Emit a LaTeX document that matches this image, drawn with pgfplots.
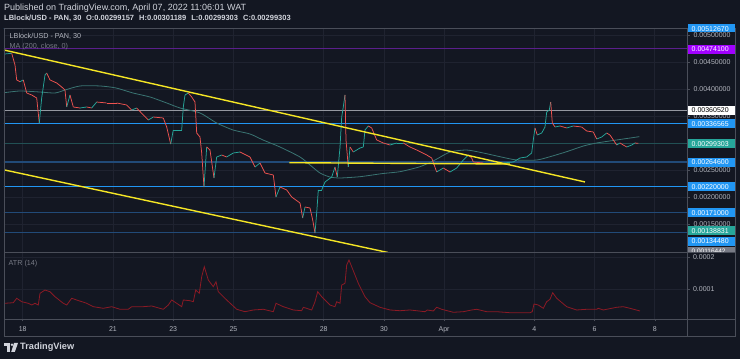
\documentclass[border=0pt]{standalone}
\usepackage{fontspec}
\setmainfont{Liberation Sans}
\usepackage{pgfplots}
\usepackage{pgfplotstable}
\pgfplotsset{compat=1.18}
\definecolor{bg}{HTML}{131722}
\definecolor{gridc}{HTML}{1F2330}
\definecolor{framec}{HTML}{4A4E59}
\definecolor{textc}{HTML}{D1D4DC}
\definecolor{lblc}{HTML}{B2B5BE}
\definecolor{mutedc}{HTML}{787B86}
\definecolor{upc}{HTML}{26A69A}
\definecolor{dnc}{HTML}{EF5350}
\definecolor{mac}{HTML}{3A7472}
\definecolor{yel}{HTML}{F5E625}
\definecolor{blu}{HTML}{2196F3}
\definecolor{dblu}{HTML}{214A78}
\definecolor{purl}{HTML}{5A1F8C}
\definecolor{purb}{HTML}{A100FF}
\definecolor{gryl}{HTML}{9598A1}
\definecolor{grybox}{HTML}{787B86}
\definecolor{atrc}{HTML}{8B1A25}

\pgfplotstableread{
d p m
-0.598 0.004648 1
-0.365 0.004661 0
-0.256 0.004444 0
-0.199 0.004167 0
-0.090 0.004135 1
0.020 0.004167 0
0.133 0.003926 0
0.299 0.003889 0
0.465 0.003833 0
0.551 0.003370 1
0.631 0.003833 1
0.741 0.004259 1
0.797 0.004296 0
0.907 0.004167 0
1.130 0.004111 0
1.296 0.004037 0
1.405 0.003981 0
1.462 0.003667 1
1.571 0.003889 0
1.681 0.003667 0
1.904 0.003648 1
2.126 0.003667 0
2.292 0.003648 1
2.458 0.003759 0
2.791 0.003741 0
3.123 0.003741 0
3.455 0.003704 0
3.621 0.003611 1
3.787 0.003648 0
4.007 0.003519 0
4.173 0.003426 1
4.339 0.003481 0
4.671 0.003463 0
4.784 0.003296 0
4.917 0.002981 1
5.003 0.003241 1
5.282 0.003241 1
5.336 0.003667 1
5.392 0.003889 1
5.502 0.003926 0
5.615 0.003852 0
5.724 0.003759 0
5.781 0.003185 0
5.890 0.003111 0
5.947 0.002815 0
6.023 0.002185 1
6.113 0.002926 0
6.223 0.002870 0
6.355 0.002352 1
6.445 0.002741 1
6.611 0.002778 0
6.777 0.002741 1
6.997 0.002815 1
7.219 0.002833 0
7.551 0.002741 0
7.718 0.002556 1
7.884 0.002630 0
8.050 0.002444 0
8.326 0.002407 0
8.415 0.002000 1
8.548 0.002185 0
8.771 0.002130 0
8.937 0.002000 0
9.213 0.001889 0
9.302 0.001611 1
9.379 0.001815 0
9.545 0.001796 0
9.635 0.001574 0
9.711 0.001333 1
9.767 0.001704 1
9.821 0.002130 1
9.934 0.002130 1
10.043 0.002278 1
10.266 0.002370 1
10.375 0.002556 0
10.452 0.002370 1
10.542 0.002926 1
10.598 0.003481 1
10.651 0.003667 1
10.708 0.003889 0
10.741 0.003056 0
10.817 0.002556 1
10.874 0.002926 0
10.983 0.002833 1
11.206 0.002907 1
11.316 0.002926 1
11.372 0.003241 1
11.482 0.003315 0
11.595 0.003278 0
11.761 0.003056 0
11.980 0.003000 0
12.203 0.002963 1
12.425 0.003000 1
12.645 0.003000 0
12.867 0.002926 0
13.090 0.002870 0
13.422 0.002778 0
13.588 0.002722 0
13.754 0.002463 1
13.973 0.002537 0
14.196 0.002463 1
14.419 0.002537 1
14.638 0.002685 1
14.804 0.002778 0
14.917 0.002722 0
14.970 0.002648 0
15.302 0.002630 0
15.635 0.002630 1
15.967 0.002630 1
16.299 0.002648 1
16.522 0.002722 1
16.744 0.002741 1
16.910 0.002815 1
16.963 0.003056 1
17.020 0.003278 0
17.096 0.003148 1
17.243 0.003185 1
17.352 0.003296 1
17.409 0.003574 1
17.495 0.003611 1
17.542 0.003759 0
17.595 0.003370 0
17.685 0.003296 1
17.851 0.003315 0
18.073 0.003278 1
18.292 0.003315 0
18.571 0.003296 0
18.738 0.003222 0
18.957 0.003204 0
19.070 0.003074 1
19.236 0.003111 1
19.402 0.003185 0
19.512 0.003148 0
19.621 0.003056 0
19.734 0.002963 1
19.844 0.003000 0
19.953 0.002963 0
20.066 0.002926 1
20.233 0.002963 1
20.342 0.003000 0
20.452 0.002993 0
}\pricetab

\pgfplotstableread{
d p
-0.621 0.003931
-0.090 0.003963
0.575 0.003944
1.073 0.003926
1.405 0.003981
1.904 0.004056
2.568 0.004056
3.100 0.004019
3.664 0.003926
4.229 0.003852
4.784 0.003741
5.226 0.003648
5.890 0.003556
6.445 0.003370
6.987 0.003241
7.551 0.003167
7.983 0.003056
8.548 0.002926
9.213 0.002741
9.545 0.002593
9.877 0.002444
10.209 0.002370
10.542 0.002352
11.206 0.002376
11.970 0.002435
12.535 0.002469
13.199 0.002561
13.698 0.002685
14.196 0.002833
14.751 0.002870
15.302 0.002815
15.857 0.002746
16.412 0.002685
17.076 0.002685
17.518 0.002746
18.073 0.002839
18.625 0.002944
19.070 0.003000
19.734 0.003056
20.485 0.003117
}\matab

\pgfplotstableread{
d v
-0.588 0.0000549
-0.312 0.0000568
-0.199 0.0000707
-0.033 0.0000599
0.186 0.0000549
0.299 0.0000495
0.409 0.0000549
0.518 0.0000495
0.575 0.0000864
0.741 0.0000968
0.907 0.0000915
1.073 0.0000757
1.349 0.0000549
1.462 0.0000495
1.628 0.0000707
1.794 0.0000653
2.126 0.0000549
2.346 0.0000442
2.678 0.0000391
2.957 0.0000442
3.233 0.0000360
3.508 0.0000360
3.621 0.0000442
4.007 0.0000442
4.286 0.0000464
4.671 0.0000360
4.837 0.0000495
4.950 0.0000653
5.116 0.0000549
5.282 0.0000442
5.336 0.0000653
5.558 0.0000631
5.668 0.0000599
5.748 0.0000968
5.867 0.0000864
5.947 0.0001388
6.033 0.0001703
6.166 0.0001284
6.332 0.0001073
6.422 0.0001230
6.498 0.0000915
6.777 0.0000653
7.110 0.0000360
7.385 0.0000284
7.661 0.0000338
7.993 0.0000360
8.326 0.0000284
8.415 0.0000549
8.658 0.0000442
8.990 0.0000338
9.269 0.0000315
9.322 0.0000423
9.601 0.0000338
9.711 0.0000599
9.801 0.0000915
9.934 0.0000757
10.209 0.0000495
10.375 0.0000442
10.432 0.0000599
10.542 0.0000549
10.598 0.0001126
10.708 0.0001180
10.764 0.0001757
10.841 0.0001915
10.930 0.0001703
11.150 0.0001180
11.372 0.0000757
11.538 0.0000568
11.870 0.0000423
12.203 0.0000338
12.535 0.0000315
12.867 0.0000338
13.365 0.0000284
13.442 0.0000338
13.641 0.0000306
13.754 0.0000423
13.920 0.0000360
14.306 0.0000265
14.638 0.0000284
14.917 0.0000338
15.083 0.0000360
15.415 0.0000284
15.748 0.0000284
16.189 0.0000252
16.854 0.0000252
16.930 0.0000284
16.987 0.0000527
17.130 0.0000495
17.296 0.0000391
17.409 0.0000599
17.518 0.0000675
17.608 0.0000883
17.741 0.0000707
18.073 0.0000442
18.405 0.0000338
18.738 0.0000360
19.070 0.0000360
19.123 0.0000391
19.289 0.0000338
19.734 0.0000423
19.953 0.0000442
20.176 0.0000391
20.508 0.0000306
}\atrtab

\newcommand\pf{\fontsize{7}{8}\selectfont}

\begin{document}
\begin{tikzpicture}[x=1pt,y=1pt]
\useasboundingbox (0,0) rectangle (740,359);
\fill[bg] (0,0) rectangle (740,359);

% ---------------- price panel
\begin{axis}[at={(4pt,107pt)}, anchor=south west, width=683pt, height=224pt, scale only axis,
  enlargelimits=false,
  xmin=-0.6213, xmax=22.0698, ymin=0.00098148, ymax=0.0051296,
  axis line style={draw=none},
  xtick={0,3,5,7,10,12,14,17,19,21}, xticklabels={}, 
  ytick={0.0015,0.002,0.0025,0.003,0.0035,0.004,0.0045,0.005},
  yticklabels={0.00150000,0.00200000,0.00250000,{},0.00350000,0.00400000,0.00450000,0.00500000},
  scaled y ticks=false, scaled x ticks=false,
  ytick pos=right, yticklabel pos=right,
  tick align=outside, major tick length=3pt,
  x tick style={draw=none}, y tick style={framec, line width=0.6pt},
  y tick label style={font=\pf, text=lblc, anchor=west},
  /pgf/number format/assume math mode=true,
  grid=major, major grid style={gridc, line width=0.7pt},
]
% horizontal levels
\addplot[blu, line width=1.1pt] coordinates {(-1,0.0051267) (23,0.0051267)};
\addplot[purl, line width=1pt] coordinates {(-1,0.004741) (23,0.004741)};
\addplot[gryl, line width=1pt] coordinates {(-1,0.0036052) (23,0.0036052)};
\addplot[blu, line width=1.2pt] coordinates {(-1,0.00336565) (23,0.00336565)};
\addplot[upc, opacity=0.35, line width=0.6pt] coordinates {(-1,0.00299303) (23,0.00299303)};
\addplot[dblu, line width=1.3pt] coordinates {(-1,0.002646) (23,0.002646)};
\addplot[blu, line width=1.2pt] coordinates {(-1,0.0022) (23,0.0022)};
\addplot[dblu, line width=1.3pt] coordinates {(-1,0.00171) (23,0.00171)};
\addplot[dblu, line width=1.3pt] coordinates {(-1,0.0013448) (23,0.0013448)};
% moving average
\addplot[mac, line width=0.8pt, smooth, tension=0.4] table[x=d, y=p] {\matab};
% price
\addplot[mesh, shader=flat corner, line width=0.75pt, colormap={updn}{color=(dnc) color=(upc)},
  point meta min=0, point meta max=1, point meta=explicit] table[x=d, y=p, meta=m] {\pricetab};
% trend lines
\addplot[yel, line width=1.4pt] coordinates {(-0.621,0.004722) (18.681,0.002278)};
\addplot[yel, line width=1.4pt] coordinates {(-0.598,0.002500) (12.136,0.000972)};
\addplot[yel, line width=1.4pt] coordinates {(8.857,0.002635) (16.189,0.002611)};
\end{axis}

% ---------------- ATR panel
\begin{axis}[at={(4pt,40pt)}, anchor=south west, width=683pt, height=66pt, scale only axis,
  enlargelimits=false,
  xmin=-0.6213, xmax=22.0698, ymin=0.00000536, ymax=0.00021356,
  axis line style={draw=none},
  xtick={0,3,5,7,10,12,14,17,19,21},
  xticklabels={18,21,23,25,28,30,Apr,4,6,8},
  ytick={0.0001,0.0002}, yticklabels={0.0001,0.0002},
  scaled y ticks=false, scaled x ticks=false,
  ytick pos=right, yticklabel pos=right, xtick pos=bottom,
  tick align=outside, major tick length=2.5pt,
  tick style={framec, line width=0.6pt},
  y tick label style={font=\pf, text=lblc, anchor=west},
  x tick label style={font=\pf, text=lblc, yshift=-1.5pt},
  /pgf/number format/assume math mode=true,
  grid=major, major grid style={gridc, line width=0.7pt},
]
\addplot[atrc, line width=0.8pt] table[x=d, y=v] {\atrtab};
\end{axis}

% ---------------- overlays in image pixel coordinates
\begin{scope}[x=1pt, y=-1pt, yshift=359pt]
% frame
\draw[framec, line width=0.9pt] (4,28) rectangle (735,336);
\draw[framec, line width=0.9pt] (687,28) -- (687,336);
\draw[framec, line width=1.4pt] (4,252.7) -- (735,252.7);
\draw[framec, line width=0.9pt] (4,319.3) -- (735,319.3);
% price label boxes
\fill[blu] (688,24.5) rectangle (735,32.5);
\node[anchor=west, inner sep=0, text=white, font=\pf] at (691.5,28.7) {0.00512670};
\fill[purb] (688,45) rectangle (735,54);
\node[anchor=west, inner sep=0, text=white, font=\pf] at (691.5,49.5) {0.00474100};
\fill[white] (688,106) rectangle (735,115);
\node[anchor=west, inner sep=0, text=black, font=\pf] at (691.5,110.5) {0.00360520};
\fill[blu] (688,119.5) rectangle (735,128.5);
\node[anchor=west, inner sep=0, text=white, font=\pf] at (691.5,124) {0.00336565};
\fill[upc] (688,139.5) rectangle (735,148.5);
\node[anchor=west, inner sep=0, text=white, font=\pf] at (691.5,144) {0.00299303};
\fill[blu] (688,158) rectangle (735,167);
\node[anchor=west, inner sep=0, text=white, font=\pf] at (691.5,162.5) {0.00264600};
\fill[blu] (688,182.5) rectangle (735,191.5);
\node[anchor=west, inner sep=0, text=white, font=\pf] at (691.5,187) {0.00220000};
\fill[blu] (688,208.5) rectangle (735,217.5);
\node[anchor=west, inner sep=0, text=white, font=\pf] at (691.5,213) {0.00171000};
\fill[upc] (688,226.5) rectangle (735,235.5);
\node[anchor=west, inner sep=0, text=white, font=\pf] at (691.5,231) {0.00138831};
\fill[blu] (688,237) rectangle (735,246);
\node[anchor=west, inner sep=0, text=white, font=\pf] at (691.5,241.5) {0.00134480};
\begin{scope}
\clip (688,246.5) rectangle (735,252);
\fill[grybox] (688,247.5) rectangle (735,256.5);
\node[anchor=west, inner sep=0, text=white, font=\fontsize{6.5}{7}\selectfont] at (691.5,250.8) {0.00116442};
\end{scope}
% header
\node[anchor=west, inner sep=0, text=textc, font=\fontsize{9}{10}\selectfont] at (4,7.8) {Published on TradingView.com, April 07, 2022 11:06:01 WAT};
\node[anchor=west, inner sep=0, text=textc, font=\bfseries\fontsize{7.5}{9}\selectfont] at (4,18) {LBlock/USD - PAN, 30\hspace{2.5pt} O:0.00299157\hspace{3pt} H:0.00301189\hspace{3pt} L:0.00299303\hspace{3pt} C:0.00299303};
% in-chart legends
\node[anchor=west, inner sep=0, text=lblc, font=\fontsize{7.2}{8}\selectfont] at (9.5,36) {LBlock/USD - PAN, 30};
\node[anchor=west, inner sep=0, text=mutedc, font=\fontsize{7.2}{8}\selectfont] at (9.5,46.5) {MA (200, close, 0)};
\node[anchor=west, inner sep=0, text=mutedc, font=\fontsize{7.2}{8}\selectfont] at (8.5,263.5) {ATR (14)};
% TradingView logo
\fill[textc] (4,343) rectangle (10,346);
\fill[textc] (7,343) rectangle (10,352);
\fill[textc] (12,344.8) circle (1.4);
\fill[textc] (14,343) -- (18,343) -- (14.8,352) -- (11.2,352) -- cycle;
\node[anchor=west, inner sep=0, text=textc, font=\bfseries\fontsize{9.2}{10}\selectfont] at (20,347) {TradingView};
\end{scope}
\end{tikzpicture}
\end{document}
